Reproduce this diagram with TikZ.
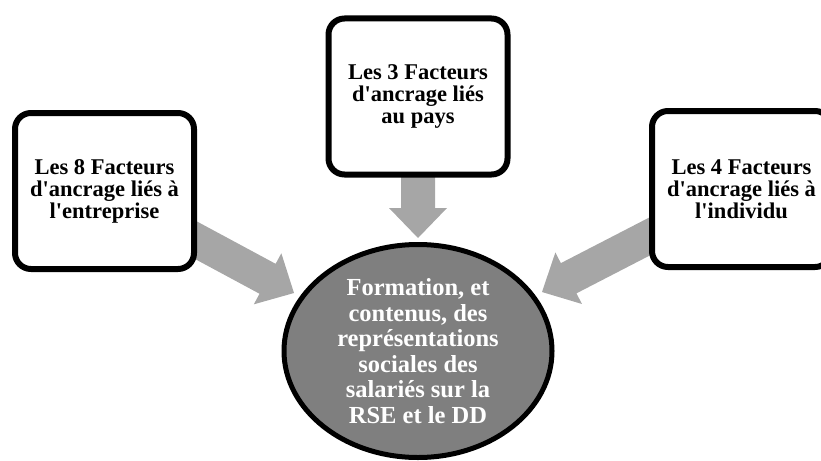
\documentclass[tikz,border=0pt]{standalone}
\usepackage{fontspec}
\setmainfont{Liberation Serif}[Ligatures=TeXOff]
\usetikzlibrary{calc,shapes.geometric}
\definecolor{arrowgray}{HTML}{A6A6A6}
\definecolor{coregray}{HTML}{7F7F7F}

% Block arrow from #1 towards the tip #2 (shaft half-width 17, head half-width 29, head length 30)
\newcommand\blockarrow[2]{%
  \coordinate (#2-base) at ($(#2)!30pt!(#1)$);
  \fill[arrowgray]
    ($(#1)!17pt!90:(#2)$) -- ($(#2-base)!17pt!90:(#2)$) -- ($(#2-base)!29pt!90:(#2)$)
    -- (#2)
    -- ($(#2-base)!29pt!-90:(#2)$) -- ($(#2-base)!17pt!-90:(#2)$) -- ($(#1)!17pt!-90:(#2)$) -- cycle;
}

\begin{document}
\begin{tikzpicture}[x=1pt,y=-1pt,
  factor/.style={draw=black, line width=6pt, rounded corners=16pt, fill=white,
    minimum width=179pt, minimum height=156pt, inner sep=0pt, align=center,
    font=\bfseries\fontsize{22.5}{22}\selectfont},
  core/.style={ellipse, draw=black, line width=5pt, fill=coregray,
    minimum width=268pt, minimum height=213pt, inner sep=0pt},
  coretext/.style={text=white, align=center, inner sep=0pt,
    font=\bfseries\fontsize{24.5}{25.5}\selectfont}]
\useasboundingbox (0,0) rectangle (821,460);

% factor boxes (positions only; drawn after the arrows)
\coordinate (cL) at (104.5,191);
\coordinate (cT) at (418,96.5);
\coordinate (cR) at (741.5,189);

% arrow tips near the central ellipse
\coordinate (tipL) at (294,293);
\coordinate (tipT) at (418,238);
\coordinate (tipR) at (542,292);

\blockarrow{cL}{tipL}
\blockarrow{cT}{tipT}
\blockarrow{cR}{tipR}

\node[factor] (entreprise) at (cL) {Les 8 Facteurs\\d'ancrage liés à\\l'entreprise};
\node[factor] (pays) at (cT) {Les 3 Facteurs\\d'ancrage liés\\au pays};
\node[factor] (individu) at (cR) {Les 4 Facteurs\\d'ancrage liés à\\l'individu};

\node[core] (rse) at (418,351) {};
\node[coretext] (rsetext) at (rse.center) {Formation, et\\contenus, des\\représentations\\sociales des\\salariés sur la\\RSE et le DD};
\end{tikzpicture}
\end{document}
